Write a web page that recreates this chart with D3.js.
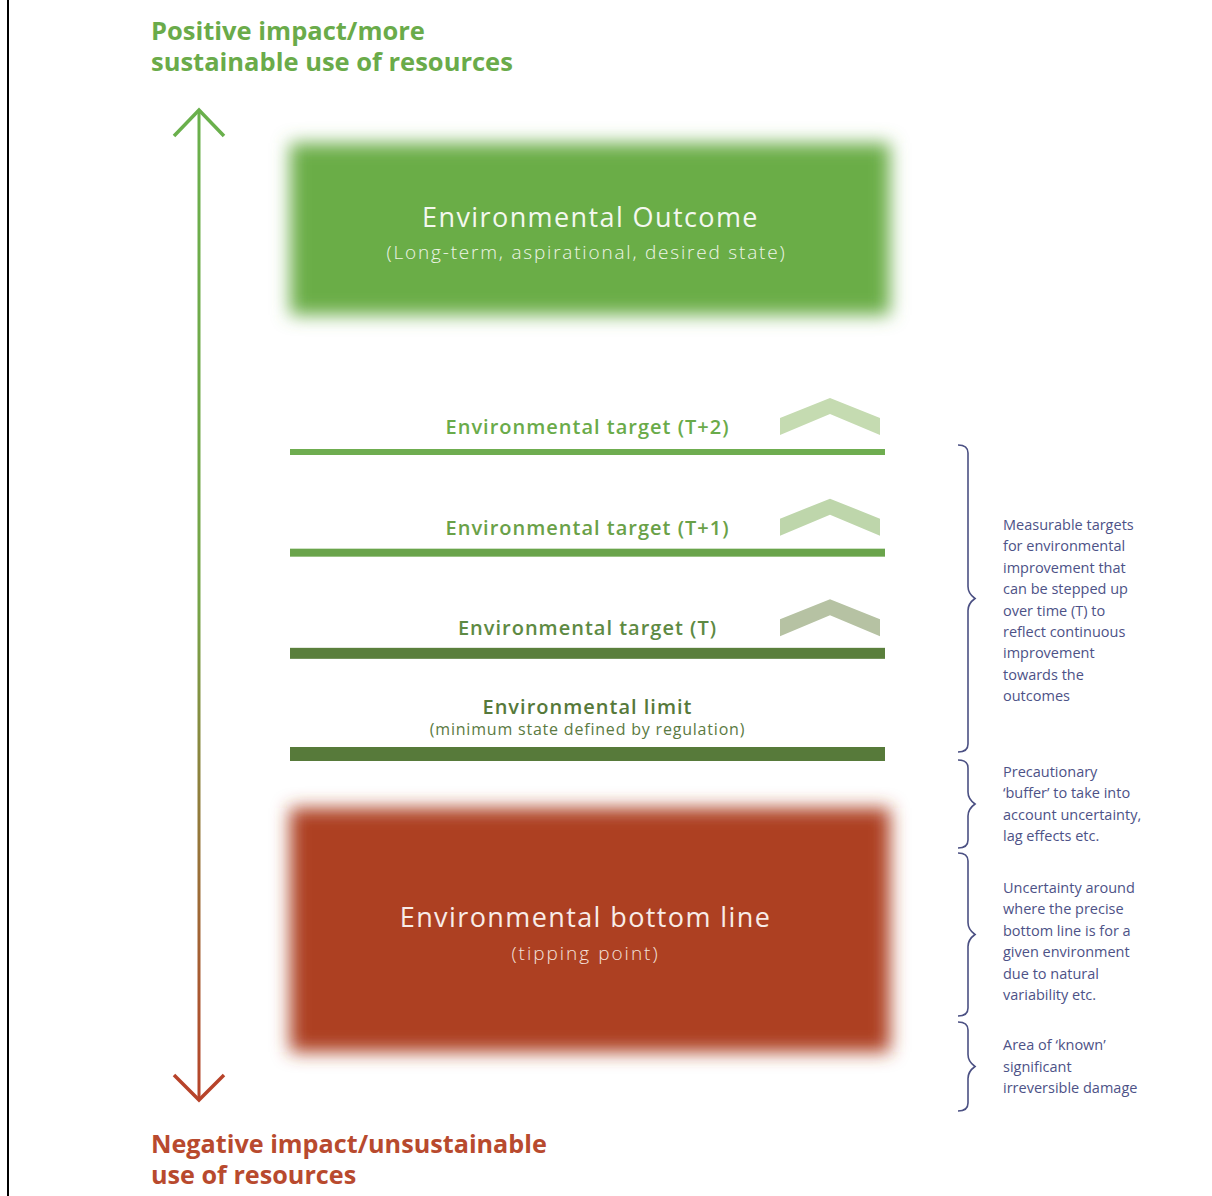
<!DOCTYPE html>
<html><head><meta charset="utf-8">
<script src="https://cdn.jsdelivr.net/npm/d3@7"></script>
<style>body{margin:0;background:#fff}svg{display:block}text{font-family:"Open Sans",Lato,sans-serif}</style>
</head><body>
<script>
// ---- data ----
const topTitle = ["Positive impact/more", "sustainable use of resources"];
const bottomTitle = ["Negative impact/unsustainable", "use of resources"];
const levelNames = ["Environmental target (T+2)", "Environmental target (T+1)", "Environmental target (T)", "Environmental limit"];
const levelValues = [3, 2, 1, 0];            // step of each target above the limit
const levelSubtitles = ["", "", "", "(minimum state defined by regulation)"];
const levelThickness = [6, 8, 11, 14];
const levelHasChevron = [true, true, true, false];
const levelColors = ["#6fad50", "#6aa44b", "#5a7f3c", "#577a3a"];
const labelColors = ["#6aab4a", "#6aa148", "#5e8a43", "#56793a"];
const chevronColors = ["#c5dbb1", "#bed6ab", "#b6c2a3"];
const outcomeText = ["Environmental Outcome", "(Long-term, aspirational, desired state)"];
const bottomLineText = ["Environmental bottom line", "(tipping point)"];
const braceRanges = [[445, 752], [760, 848], [853, 1016], [1022, 1111]];
const braceTexts = [
  ["Measurable targets", "for environmental", "improvement that", "can be stepped up", "over time (T) to", "reflect continuous", "improvement", "towards the", "outcomes"],
  ["Precautionary", "\u2018buffer\u2019 to take into", "account uncertainty,", "lag effects etc."],
  ["Uncertainty around", "where the precise", "bottom line is for a", "given environment", "due to natural", "variability etc."],
  ["Area of \u2018known\u2019", "significant", "irreversible damage"]
];

// ---- drawing ----
const W = 1212, H = 1196;
const svg = d3.select("body").append("svg").attr("width", W).attr("height", H);
const defs = svg.append("defs");
defs.append("filter").attr("id", "blur").attr("x", "-10%").attr("y", "-20%").attr("width", "120%").attr("height", "140%")
  .append("feGaussianBlur").attr("stdDeviation", 9);
const grad = defs.append("linearGradient").attr("id", "arrowGrad")
  .attr("gradientUnits", "userSpaceOnUse").attr("x1", 0).attr("x2", 0).attr("y1", 110).attr("y2", 1100);
grad.append("stop").attr("offset", "0%").attr("stop-color", "#6ab04c");
grad.append("stop").attr("offset", "50%").attr("stop-color", "#76a448");
grad.append("stop").attr("offset", "100%").attr("stop-color", "#b7432a");

// left border line
svg.append("line").attr("x1", 8).attr("x2", 8).attr("y1", 0).attr("y2", H).attr("stroke", "#000").attr("stroke-width", 2);

// titles
svg.append("g").selectAll("text").data(topTitle).join("text")
  .attr("x", 151).attr("y", (d, i) => 40 + i * 31).attr("font-size", 25.5).attr("font-weight", 700)
  .attr("fill", "#6aab4a").text(d => d);
svg.append("g").selectAll("text").data(bottomTitle).join("text")
  .attr("x", 151).attr("y", (d, i) => 1153 + i * 31).attr("font-size", 25.2).attr("font-weight", 700)
  .attr("fill", "#b84a2e").text(d => d);

// vertical arrow
const ax = 199;
svg.append("line").attr("x1", ax).attr("x2", ax).attr("y1", 111).attr("y2", 1099)
  .attr("stroke", "url(#arrowGrad)").attr("stroke-width", 3);
svg.append("path").attr("d", `M${ax - 25},136 L${ax},110 L${ax + 25},136`).attr("fill", "none")
  .attr("stroke", "#6ab04c").attr("stroke-width", 3.5);
svg.append("path").attr("d", `M${ax - 25},1075 L${ax},1100 L${ax + 25},1075`).attr("fill", "none")
  .attr("stroke", "#b7432a").attr("stroke-width", 3.5);

// scales
const x = d3.scaleLinear().domain([0, 1]).range([290, 885]);
const y = d3.scaleLinear().domain([0, 3]).range([754, 452]);

// boxes
svg.append("rect").attr("x", x(0)).attr("y", 143).attr("width", x(1) - x(0) + 5).attr("height", 172)
  .attr("fill", "#6aad47").attr("filter", "url(#blur)");
svg.append("rect").attr("x", x(0)).attr("y", 808).attr("width", x(1) - x(0) + 5).attr("height", 244)
  .attr("fill", "#ad3f23").attr("filter", "url(#blur)");
const cx = (x(0) + x(1)) / 2 + 3;
svg.append("text").attr("x", cx).attr("y", 227).attr("text-anchor", "middle").attr("font-size", 27)
  .attr("font-weight", 500).attr("letter-spacing", 1.4).attr("fill", "#f4f8ef").text(outcomeText[0]);
svg.append("text").attr("x", cx - 4).attr("y", 259).attr("text-anchor", "middle").attr("font-size", 19)
  .attr("font-weight", 300).attr("letter-spacing", 1.8).attr("fill", "#eef5e8").text(outcomeText[1]);
svg.append("text").attr("x", cx - 5).attr("y", 927).attr("text-anchor", "middle").attr("font-size", 27)
  .attr("font-weight", 500).attr("letter-spacing", 1.4).attr("fill", "#f8ece8").text(bottomLineText[0]);
svg.append("text").attr("x", cx - 5).attr("y", 960).attr("text-anchor", "middle").attr("font-size", 19)
  .attr("font-weight", 300).attr("letter-spacing", 2.0).attr("fill", "#f4e2dc").text(bottomLineText[1]);

// levels
const levels = levelNames.map((n, i) => ({name: n, v: levelValues[i], sub: levelSubtitles[i], t: levelThickness[i],
  chev: levelHasChevron[i], col: levelColors[i], lcol: labelColors[i], ccol: chevronColors[i]}));
const lg = svg.append("g").selectAll("g").data(levels).join("g");
lg.append("rect").attr("x", x(0)).attr("width", x(1) - x(0))
  .attr("y", d => y(d.v) - d.t / 2).attr("height", d => d.t).attr("fill", d => d.col);
lg.append("text").attr("x", (x(0) + x(1)) / 2)
  .attr("y", d => d.sub ? y(d.v) - 40 : y(d.v) - 18)
  .attr("text-anchor", "middle").attr("font-size", 20).attr("font-weight", 600).attr("letter-spacing", 1.0)
  .attr("fill", d => d.lcol).text(d => d.name);
lg.filter(d => d.sub).append("text").attr("x", (x(0) + x(1)) / 2).attr("y", d => y(d.v) - 19)
  .attr("text-anchor", "middle").attr("font-size", 16).attr("letter-spacing", 0.8).attr("fill", "#5b7a42").text(d => d.sub);
lg.filter(d => d.chev).append("path")
  .attr("d", d => {
    const b = y(d.v) - 17;
    return `M780,${b - 17} L830,${b - 37} L880,${b - 17} L880,${b} L830,${b - 21} L780,${b} Z`;
  })
  .attr("fill", d => d.ccol);

// braces
const braceColor = "#4b5083";
const bx = 968;
function bracePath(a, b) {
  const m = (a + b) / 2;
  return `M958,${a} Q${bx},${a} ${bx},${a + 8} L${bx},${m - 12} Q${bx},${m - 5} ${bx + 7},${m} ` +
    `Q${bx},${m + 5} ${bx},${m + 12} L${bx},${b - 8} Q${bx},${b} 958,${b}`;
}
svg.append("g").selectAll("path").data(braceRanges).join("path")
  .attr("d", d => bracePath(d[0], d[1])).attr("fill", "none").attr("stroke", braceColor).attr("stroke-width", 1.6);
const textShift = [12, 0, 7, 0]; // layout nudges of each text block relative to its brace centre
const tg = svg.append("g").selectAll("text").data(braceTexts).join("text")
  .attr("font-size", 14.5).attr("fill", "#4d5287")
  .attr("y", (d, i) => (braceRanges[i][0] + braceRanges[i][1]) / 2 + textShift[i] - (d.length - 1) * 21.4 / 2 + 5);
tg.selectAll("tspan").data(d => d).join("tspan").attr("x", 1003)
  .attr("dy", (d, i) => i === 0 ? 0 : 21.4).text(d => d);
</script>
</body></html>
